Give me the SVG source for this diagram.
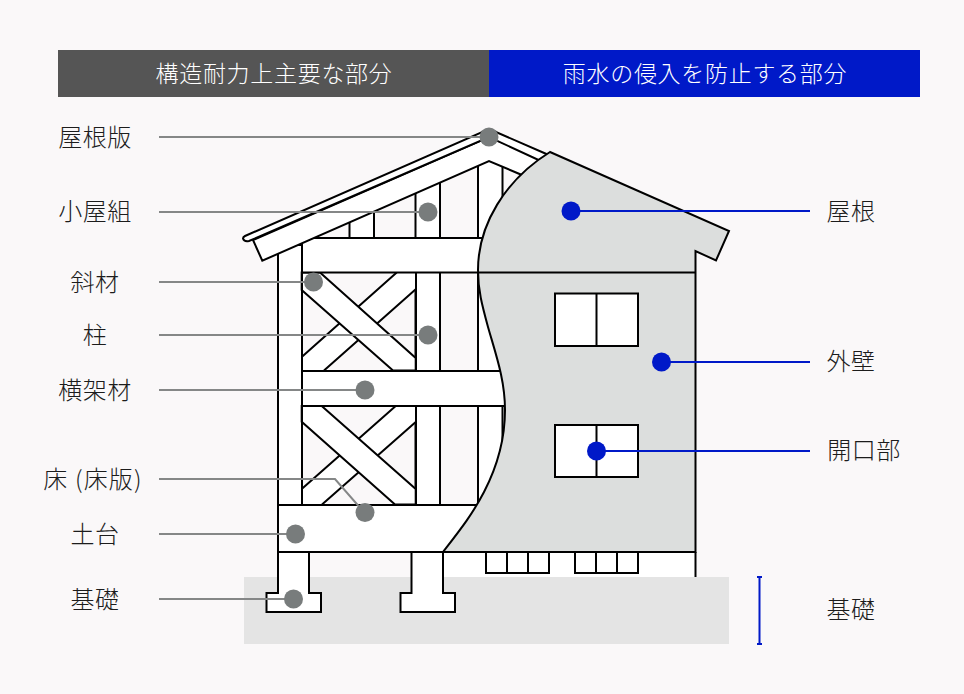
<svg xmlns="http://www.w3.org/2000/svg" width="964" height="694" viewBox="0 0 964 694">
<style>
text{font-family:"Noto Sans CJK JP","Noto Sans",sans-serif;font-size:24px;font-weight:300;fill:#1c1c1c;text-anchor:middle;letter-spacing:.5px}
.hd{fill:#fff;font-size:23px;letter-spacing:.7px}
.w{fill:#fff;stroke:#000;stroke-width:2;stroke-linejoin:miter}
.l{fill:none;stroke:#000;stroke-width:2}
.wall{fill:#dcdedd;stroke:#000;stroke-width:2}
.lead{fill:none;stroke:#858787;stroke-width:2}
.blue{fill:none;stroke:#0019c8;stroke-width:2}
.gd{fill:#787c7c}
.bd{fill:#0019c8}
</style>
<rect width="964" height="694" fill="#faf8f9"/>
<g id="header">
<rect x="58" y="50" width="431" height="47" fill="#555"/>
<rect x="489" y="50" width="431" height="47" fill="#0019c8"/>
<text class="hd" x="274" y="82">構造耐力上主要な部分</text>
<text class="hd" x="705" y="82">雨水の侵入を防止する部分</text>
</g>
<rect id="ground" x="244" y="577" width="485" height="67" fill="#e4e4e4"/>
<g id="frame">
<rect class="w" x="349.500" y="200" width="24.500" height="40"/>
<rect class="w" x="415.500" y="170" width="24.500" height="340"/>
<rect class="w" x="478" y="150" width="24.500" height="360"/>
<rect class="w" x="278" y="245" width="24" height="262"/>
<g id="brace-upper">
<path d="M396.700 272.500H416V289L324 370.500H301.700V357Z" fill="#fff"/>
<path class="l" d="M396.700 272.500L301.700 357M416 289L324 370.500"/>
<path class="w" d="M320 272.500L415.700 358V370.500H393L301.700 290V272.500Z"/>
<path class="l" d="M302 272V371M416 272V371"/>
</g>
<g id="brace-lower">
<path d="M395.700 406H416V421.700L322 504.500H301.700V489Z" fill="#fff"/>
<path class="l" d="M395.700 406L301.700 489M416 421.700L322 504.500"/>
<path class="w" d="M321.700 406L415.700 489V504.500H395L301.700 421.700V406Z"/>
<path class="l" d="M302 406V505M416 406V505"/>
</g>
<rect x="478" y="272" width="60" height="280" fill="#fff"/>
<path class="l" d="M478 272V505M502.500 406V505"/>
<rect class="w" x="302" y="238" width="200" height="34.500"/>
<rect class="w" x="302" y="371" width="210" height="35"/>
<path class="w" d="M278 505H500V552H278Z"/>
<rect x="443" y="553" width="252" height="24" fill="#fff"/>
<g id="vents">
<path class="w" d="M486 552H549V573H486Z"/><path class="l" d="M507 552V573M528 552V573"/>
<path class="w" d="M575 552H638V573H575Z"/><path class="l" d="M596 552V573M617 552V573"/>
</g>
<path class="w" d="M278 552H309V593H321V612H266.500V593H278Z"/>
<path class="w" d="M411.500 552H443V593H455V612H400.500V593H411.500Z"/>
<path class="l" d="M695.500 552V577"/>
<g id="roof">
<path class="w" d="M253 240L489 137L545 160L522 175L489 161L262.300 260.700Z"/>
<path class="w" d="M489 129L551 156L545 163L489 137L249 241Q244 242 243 238.500Q243 237 245 236Z"/>
</g>
</g>
<path id="wall" class="wall" d="M550 152L729 231L716 260.500L695.500 251V552H443C460 530 472 515 484 492C498 465 505 440 505 410C505 380 496 355 488 327C482 305 478 290 478 270C478 225 505 180 550 152Z"/>
<path class="l" d="M478 272.500H695.500"/>
<g id="windows">
<rect class="w" x="555" y="293.500" width="83" height="52.500"/><path class="l" d="M596.500 293.500V346"/>
<rect class="w" x="555" y="425" width="83" height="52"/><path class="l" d="M596.500 425V477"/>
</g>
<g id="connectors">
<path class="lead" d="M159 137H489"/>
<path class="lead" d="M159 212H428"/>
<path class="lead" d="M159 282H313"/>
<path class="lead" d="M159 335H428"/>
<path class="lead" d="M159 390H365"/>
<path class="lead" d="M159 479H335L362 510"/>
<path class="lead" d="M159 534H295"/>
<path class="lead" d="M159 599H293"/>
<path class="blue" d="M571 211H810"/>
<path class="blue" d="M661 362H810"/>
<path class="blue" d="M596 451H810"/>
<path class="blue" d="M757 577H762M759.500 577V644M757 644H762" stroke-width="1.500"/>
</g>
<g id="dots">
<circle class="gd" cx="489" cy="137" r="9.500"/>
<circle class="gd" cx="428" cy="212" r="9.500"/>
<circle class="gd" cx="313.500" cy="282" r="9.500"/>
<circle class="gd" cx="428" cy="335" r="9.500"/>
<circle class="gd" cx="365" cy="390" r="9.500"/>
<circle class="gd" cx="365" cy="512.500" r="9.500"/>
<circle class="gd" cx="295.500" cy="534" r="9.500"/>
<circle class="gd" cx="293.500" cy="599" r="9.500"/>
<circle class="bd" cx="571" cy="211" r="9.500"/>
<circle class="bd" cx="661.500" cy="362" r="9.500"/>
<circle class="bd" cx="596.500" cy="451" r="9.500"/>
</g>
<g id="labels">
<text x="95" y="146">屋根版</text>
<text x="95" y="220">小屋組</text>
<text x="95" y="291">斜材</text>
<text x="95" y="344">柱</text>
<text x="95" y="399">横架材</text>
<text x="93" y="488" style="letter-spacing:1.200px">床 (床版)</text>
<text x="95" y="543">土台</text>
<text x="95" y="608">基礎</text>
<text x="851" y="220">屋根</text>
<text x="851" y="370">外壁</text>
<text x="864" y="459">開口部</text>
<text x="851" y="618">基礎</text>
</g>
</svg>
